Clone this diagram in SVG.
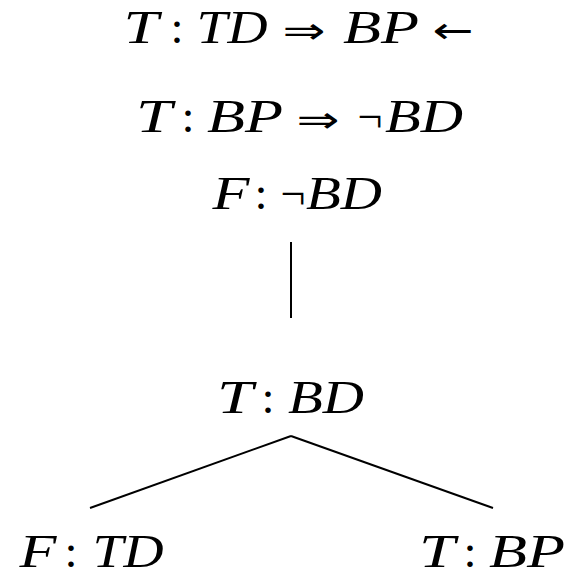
<svg xmlns="http://www.w3.org/2000/svg" width="569" height="578" viewBox="0 0 569 578">
<style>
text{font-family:"Liberation Serif","DejaVu Serif",serif;font-size:47px;fill:#000;text-anchor:middle}
.i{font-style:italic}
.a{font-family:"DejaVu Sans","Liberation Sans",sans-serif;font-size:36px}
.e{stroke:#000;stroke-width:2;fill:none}
</style>
<rect width="569" height="578" fill="#fff"/>
<g id="n1"><text y="43"><tspan class="i" x="141" textLength="35" lengthAdjust="spacingAndGlyphs">T</tspan><tspan x="177">:</tspan><tspan class="i" x="232" textLength="71" lengthAdjust="spacingAndGlyphs">TD</tspan><tspan class="a" x="304" textLength="43" lengthAdjust="spacingAndGlyphs">⇒</tspan><tspan class="i" x="381" textLength="76" lengthAdjust="spacingAndGlyphs">BP</tspan><tspan class="a" x="453" textLength="41" lengthAdjust="spacingAndGlyphs">←</tspan></text></g>
<g id="n2"><text y="132"><tspan class="i" x="154" textLength="36" lengthAdjust="spacingAndGlyphs">T</tspan><tspan x="188">:</tspan><tspan class="i" x="245" textLength="76" lengthAdjust="spacingAndGlyphs">BP</tspan><tspan class="a" x="318" textLength="43" lengthAdjust="spacingAndGlyphs">⇒</tspan><tspan x="370" textLength="25" lengthAdjust="spacingAndGlyphs">¬</tspan><tspan class="i" x="424" textLength="78" lengthAdjust="spacingAndGlyphs">BD</tspan></text></g>
<g id="n3"><text y="209"><tspan class="i" x="231" textLength="37" lengthAdjust="spacingAndGlyphs">F</tspan><tspan x="261">:</tspan><tspan x="293" textLength="25" lengthAdjust="spacingAndGlyphs">¬</tspan><tspan class="i" x="344" textLength="76" lengthAdjust="spacingAndGlyphs">BD</tspan></text></g>
<g id="n4"><text y="413"><tspan class="i" x="235" textLength="36" lengthAdjust="spacingAndGlyphs">T</tspan><tspan x="268">:</tspan><tspan class="i" x="326" textLength="76" lengthAdjust="spacingAndGlyphs">BD</tspan></text></g>
<g id="n5"><text y="567"><tspan class="i" x="38" textLength="37" lengthAdjust="spacingAndGlyphs">F</tspan><tspan x="71">:</tspan><tspan class="i" x="128" textLength="71" lengthAdjust="spacingAndGlyphs">TD</tspan></text></g>
<g id="n6"><text y="567"><tspan class="i" x="437" textLength="36" lengthAdjust="spacingAndGlyphs">T</tspan><tspan x="470">:</tspan><tspan class="i" x="527" textLength="76" lengthAdjust="spacingAndGlyphs">BP</tspan></text></g>
<g id="connectors">
<line class="e" x1="291" y1="242" x2="291" y2="318"/>
<line class="e" x1="291" y1="436" x2="90" y2="508"/>
<line class="e" x1="291" y1="436" x2="493" y2="508"/>
</g>
</svg>
